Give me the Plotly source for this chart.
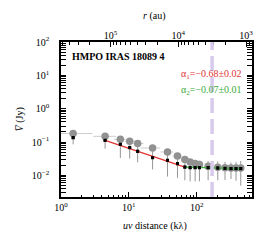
import numpy as np
import plotly.graph_objects as go

# ---- data ----
uv = [1.51, 4.47, 7.5, 10.3, 13.5, 22.4, 37.2, 52.2, 67.0, 80.2, 95.0, 110.0,
      147.6, 205.0, 262.0, 321.0, 381.0, 447.0]
v_binned = [0.179, 0.148, 0.120, 0.105, 0.0895, 0.066, 0.050, 0.038, 0.0296,
            0.0251, 0.0225, 0.021, 0.0186, 0.0174, 0.017, 0.0166, 0.0166, 0.0166]
uv_err_plus = [1.4, 2.0, 1.5, 2.0, 3.0, 6.6, 8.0, 8.0, 5.0, 6.0, 6.0, 8.0,
               10.0, 14.0, 18.0, 20.0, 24.0, 28.0]
uv_err_minus = [0.51, 1.5, 1.5, 1.5, 2.0, 7.5, 8.0, 8.0, 5.0, 6.0, 6.0, 8.0,
                10.0, 14.0, 18.0, 20.0, 24.0, 28.0]
v_fit_pts = [0.135, 0.112, 0.085, 0.068, 0.0526, 0.034, 0.0282, 0.0224, 0.0177,
             0.017, 0.017, 0.017, 0.017, 0.0166, 0.0162, 0.0159, 0.0159, 0.0159]
v_err = [0.050, 0.049, 0.052, 0.036, 0.028, 0.019, 0.019, 0.014, 0.0106,
         0.0104, 0.0104, 0.0104, 0.0099, 0.0095, 0.009, 0.0081, 0.009, 0.011]

fit1_uv = [4.47, 67.0]
fit1_v = [0.112, 0.0177]
fit2_uv = [67.0, 447.0]
fit2_v = [0.0177, 0.0159]

uv_break = 169.0
au_per_inv_klambda = 5.35e5   # r (au) = constant / uv (klambda)

source_name = "HMPO IRAS 18089 4"
alpha1_text = "α<sub>1</sub>=−0.68±0.02"
alpha2_text = "α<sub>2</sub>=−0.07±0.01"
x_title = "<i>uv</i> distance (kλ)"
x2_title = "<i>r</i> (au)"
y_title = "<i>V̅</i> (Jy)"

x_range = [1.0, 655.0]
y_range = [10 ** -2.65, 100.0]

y_ticks = [1e-2, 1e-1, 1e0, 1e1, 1e2]
y_ticktext = ["10<sup>−2</sup>", "10<sup>−1</sup>", "10<sup>0</sup>", "10<sup>1</sup>", "10<sup>2</sup>"]
x_ticks = [1e0, 1e1, 1e2]
x_ticktext = ["10<sup>0</sup>", "10<sup>1</sup>", "10<sup>2</sup>"]
r_ticks = [1e3, 1e4, 1e5]
r_ticktext = ["10<sup>3</sup>", "10<sup>4</sup>", "10<sup>5</sup>"]

FONT = "Liberation Serif"
RED = "rgb(226,52,52)"
GREEN = "rgb(60,172,60)"


def minor_vals(lo, hi):
    out = []
    for e in range(lo, hi):
        for k in range(2, 10):
            out.append(k * 10.0 ** e)
    return out


def r_to_uv(vals):
    return [au_per_inv_klambda / v for v in vals]


fig = go.Figure()

# binned visibilities (gray circles, horizontal bars)
fig.add_trace(go.Scatter(
    x=uv, y=v_binned, mode="markers",
    marker=dict(color="rgb(145,145,145)", size=7.5),
    error_x=dict(type="data", symmetric=False, array=uv_err_plus,
                 arrayminus=uv_err_minus, color="rgb(205,205,205)",
                 thickness=1, width=0),
    showlegend=False, hoverinfo="skip"))

# points with vertical errors
fig.add_trace(go.Scatter(
    x=uv, y=v_fit_pts, mode="markers",
    marker=dict(color="black", size=3, symbol="square"),
    error_y=dict(type="data", array=v_err, color="rgb(150,150,150)",
                 thickness=1, width=0),
    showlegend=False, hoverinfo="skip"))

fig.add_trace(go.Scatter(x=fit1_uv, y=fit1_v, mode="lines",
                         line=dict(color=RED, width=1.3), showlegend=False,
                         hoverinfo="skip"))
fig.add_trace(go.Scatter(x=fit2_uv, y=fit2_v, mode="lines",
                         line=dict(color=GREEN, width=1.3), showlegend=False,
                         hoverinfo="skip"))
fig.add_trace(go.Scatter(x=uv, y=v_fit_pts, mode="markers",
                         marker=dict(color="black", size=3, symbol="square"),
                         showlegend=False, hoverinfo="skip"))

# invisible trace on the top axis (same uv scale, labelled in r)
fig.add_trace(go.Scatter(x=uv, y=v_fit_pts, xaxis="x2", mode="markers",
                         marker=dict(opacity=0), showlegend=False,
                         hoverinfo="skip"))

fig.add_shape(type="line", xref="x", yref="paper", x0=uv_break, x1=uv_break,
              y0=0, y1=1, line=dict(color="rgb(216,202,236)", width=3.5,
                                    dash="15px,6px"))

fig.add_annotation(text="<b>" + source_name + "</b>", xref="paper", yref="paper",
                   x=0.048, y=0.905, xanchor="left", yanchor="middle",
                   showarrow=False, font=dict(family=FONT, size=10, color="black"))
fig.add_annotation(text=alpha1_text, xref="paper", yref="paper",
                   x=0.96, y=0.79, xanchor="right", yanchor="middle",
                   showarrow=False, font=dict(family=FONT, size=10, color=RED))
fig.add_annotation(text=alpha2_text, xref="paper", yref="paper",
                   x=0.96, y=0.69, xanchor="right", yanchor="middle",
                   showarrow=False, font=dict(family=FONT, size=10, color=GREEN))

# axis titles
fig.add_annotation(text=x_title, xref="paper", yref="paper", x=0.49, y=-0.19,
                   xanchor="center", yanchor="middle", showarrow=False,
                   font=dict(family=FONT, size=10))
fig.add_annotation(text=x2_title, xref="paper", yref="paper", x=0.49, y=1.17,
                   xanchor="center", yanchor="middle", showarrow=False,
                   font=dict(family=FONT, size=10))
fig.add_annotation(text=y_title, xref="paper", yref="paper", x=-0.215, y=0.5,
                   xanchor="center", yanchor="middle", showarrow=False,
                   textangle=-90, font=dict(family=FONT, size=10))

axis_common = dict(showgrid=False, zeroline=False, ticks="inside",
                   tickcolor="black", linecolor="black", linewidth=1.5,
                   tickwidth=1.2, ticklen=5, automargin=False,
                   ticklabeloverflow="allow",
                   tickfont=dict(family=FONT, size=10, color="black"))

fig.update_layout(
    width=265, height=241,
    margin=dict(l=61, r=13, t=42, b=44, autoexpand=False),
    paper_bgcolor="white", plot_bgcolor="white",
    font=dict(family=FONT, size=10, color="black"),
    hovermode=False,
    xaxis=dict(type="log", range=[np.log10(x_range[0]), np.log10(x_range[1])],
               tickmode="array", tickvals=x_ticks, ticktext=x_ticktext,
               minor=dict(tickmode="array", tickvals=minor_vals(0, 3),
                          ticks="inside", ticklen=2.5, tickwidth=1,
                          tickcolor="black"),
               mirror=True, showline=True,
               **axis_common),
    xaxis2=dict(type="log", overlaying="x", side="top", anchor="y",
                range=[np.log10(x_range[0]), np.log10(x_range[1])],
                tickmode="array", tickvals=r_to_uv(r_ticks), ticktext=r_ticktext,
                minor=dict(tickmode="array", tickvals=r_to_uv(minor_vals(2, 6)),
                           ticks="inside", ticklen=2.5, tickwidth=1,
                           tickcolor="black"),
                showline=False,
                **axis_common),
    yaxis=dict(type="log", range=[np.log10(y_range[0]), np.log10(y_range[1])],
               tickmode="array", tickvals=y_ticks, ticktext=y_ticktext,
               minor=dict(tickmode="array", tickvals=minor_vals(-3, 2),
                          ticks="inside", ticklen=2.5, tickwidth=1,
                          tickcolor="black"),
               mirror="allticks", showline=True, ticklabelstandoff=8,
               **axis_common),
)

fig.write_html("out.html", config={"displayModeBar": False},
               post_script="document.body.style.margin='0';")
